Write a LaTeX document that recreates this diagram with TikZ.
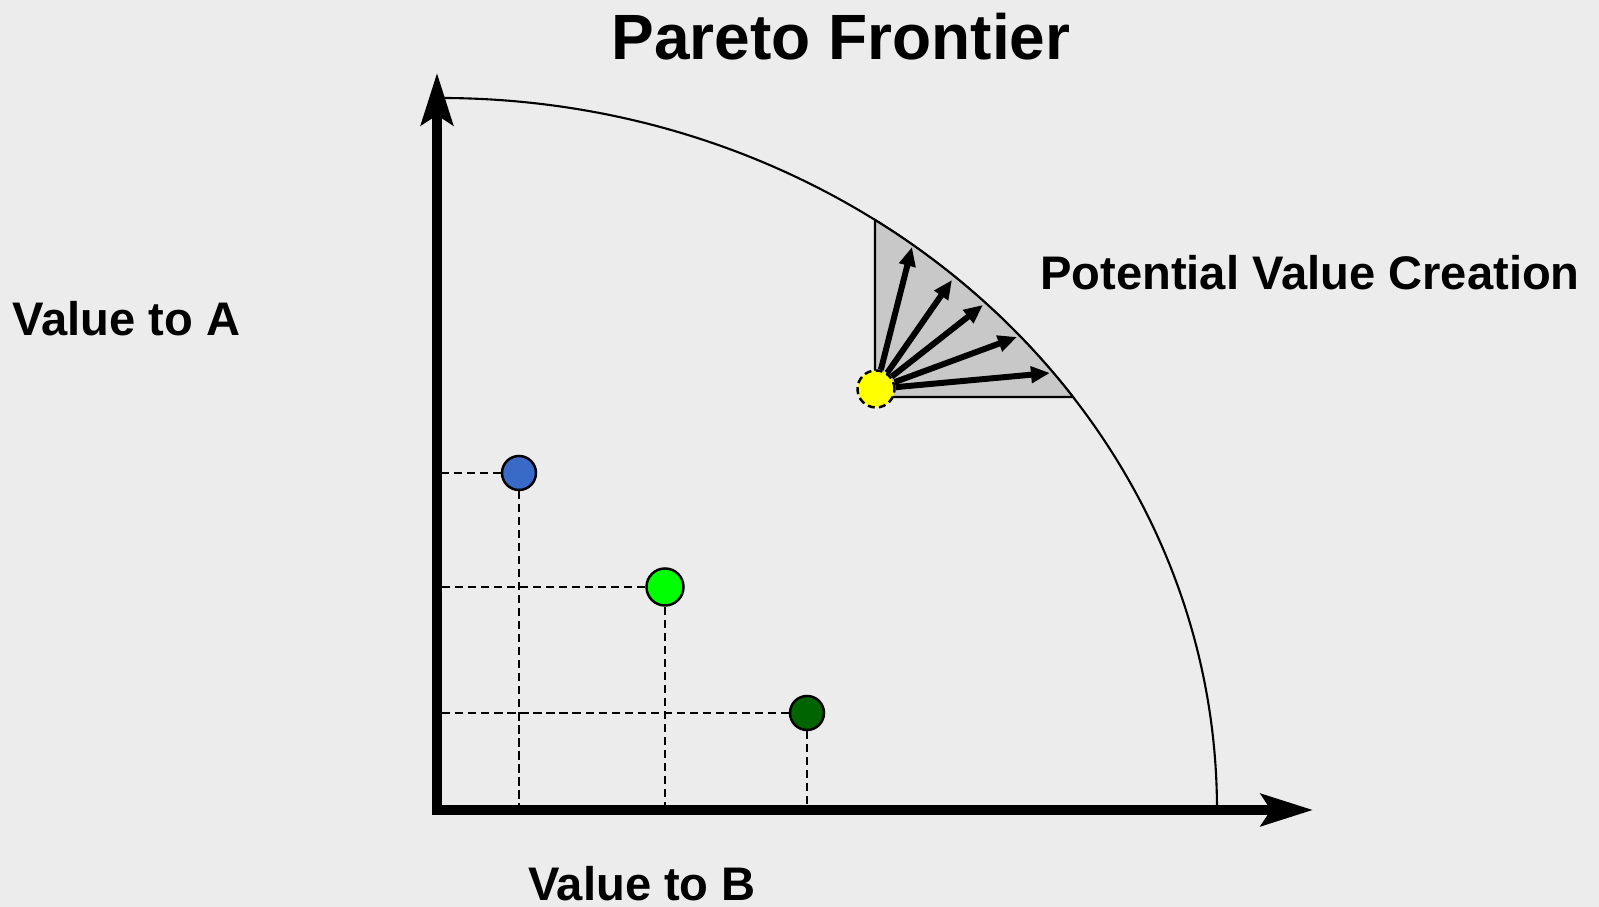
\documentclass[tikz,border=0pt]{standalone}
\usepackage{fontspec}
\setmainfont{Liberation Sans}
\usetikzlibrary{arrows.meta,positioning}
\definecolor{paper}{RGB}{236,236,236}
\definecolor{ptblue}{RGB}{58,106,200}
\definecolor{ptgreen}{RGB}{0,255,0}
\definecolor{ptdark}{RGB}{0,100,0}
\definecolor{ptyellow}{RGB}{255,255,0}
\definecolor{fan}{RGB}{200,200,200}

\begin{document}
\begin{tikzpicture}[x=0.01cm,y=0.01cm,
  axis/.style={line width=2.6pt,line cap=rect,-{Stealth[length=0.52cm,width=0.32cm,inset=0.1cm]}},
  dot/.style={circle,draw,line width=0.7pt,inner sep=0pt,minimum size=0.34cm},
  guide/.style={line width=0.7pt,dash pattern=on 2.3pt off 1.4pt},
  push/.style={line width=1.7pt,-{Triangle[length=0.19cm,width=0.16cm]}},
  lbl/.style={font=\fontsize{13.4pt}{16pt}\selectfont\bfseries,inner sep=0pt}]
\useasboundingbox[fill=paper] (0,0) rectangle (1599,907);

\node[lbl,font=\fontsize{18.2pt}{22pt}\selectfont\bfseries] (title) at (841,870) {Pareto Frontier};
\node[lbl,anchor=west] (va) at (12,588) {Value to A};
\node[lbl] (vb) at (642,23) {Value to B};
\node[lbl] (pvc) at (1310,634) {Potential Value Creation};

\coordinate (O) at (437,97);
\coordinate (ytip) at (437,834);
\coordinate (xtip) at (1313,97);

\draw[line width=0.6pt] (440,809) arc[start angle=90,end angle=0,x radius=777,y radius=712];
\filldraw[fill=fan,line width=0.6pt] (875,510) -- (1073,510)
  arc[start angle=35.45,end angle=55.96,x radius=777,y radius=712] -- cycle;

\coordinate (t1) at (912,660);
\coordinate (t2) at (952,627);
\coordinate (t3) at (983,602);
\coordinate (t4) at (1017,570);
\coordinate (t5) at (1050,534);
\node[dot,fill=ptyellow,dash pattern=on 2pt off 1.2pt,minimum size=0.37cm] (y) at (876,518) {};
\draw[push] (y) -- (t1);
\draw[push] (y) -- (t2);
\draw[push] (y) -- (t3);
\draw[push] (y) -- (t4);
\draw[push] (y) -- (t5);

\node[dot,fill=ptblue] (a) at (519,434) {};
\node[dot,fill=ptgreen,minimum size=0.37cm] (g) at (665,320) {};
\node[dot,fill=ptdark] (d) at (807,194) {};

\draw[guide] (a.west) -- (a.west -| O);
\draw[guide] (a.south) -- (a.south |- O);
\draw[guide] (g.west) -- (g.west -| O);
\draw[guide] (g.south) -- (g.south |- O);
\draw[guide] (d.west) -- (d.west -| O);
\draw[guide] (d.south) -- (d.south |- O);

\draw[axis] (O) -- (ytip);
\draw[axis] (O) -- (xtip);
\end{tikzpicture}
\end{document}
